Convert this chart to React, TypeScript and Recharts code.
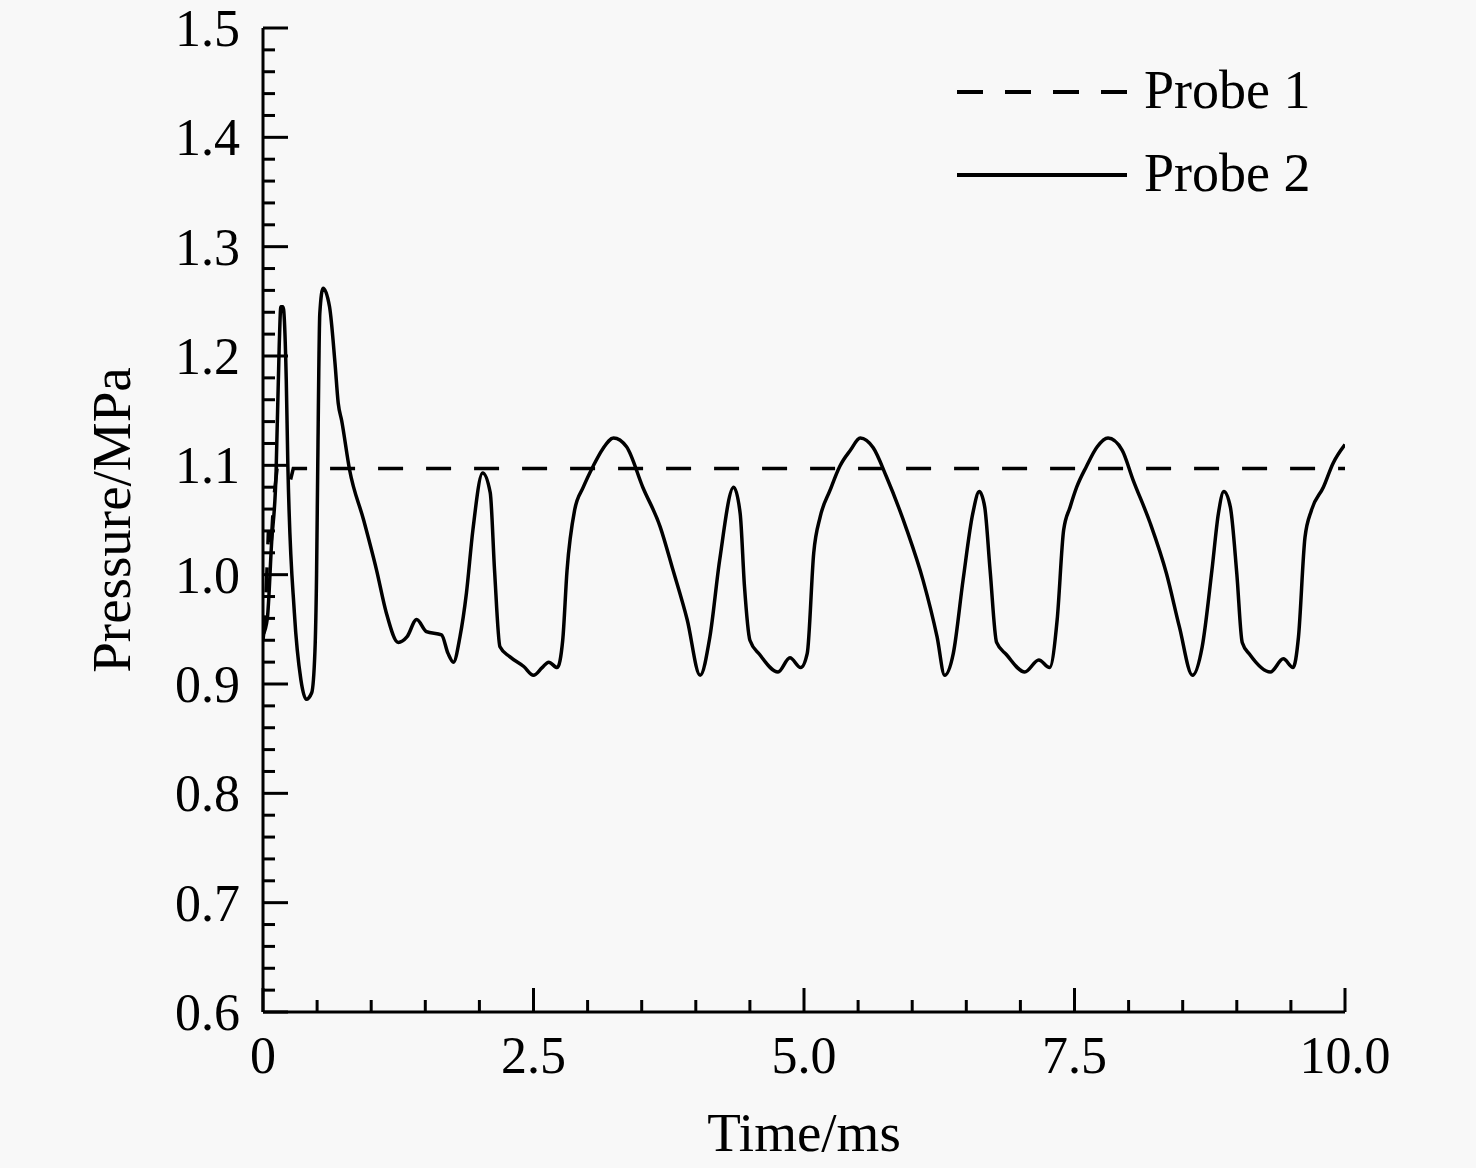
import React from 'react';
import { LineChart, Line, XAxis, YAxis, Legend, Label } from 'recharts';

const FONT = '"Liberation Serif", "Times New Roman", serif';

// Probe 1: time (ms), pressure (MPa)
const probe1Time = [0, 0.02, 0.05, 0.07, 0.1, 0.13, 0.2, 0.25, 0.28, 10];
const probe1Pressure = [0.94, 0.96, 1.04, 1.02, 1.07, 1.097, 1.097, 1.085, 1.097, 1.097];

// Probe 2: time (ms), pressure (MPa)
const probe2Time = [
  0, 0.04, 0.08, 0.12, 0.15, 0.165, 0.185, 0.215, 0.23, 0.29, 0.35, 0.4, 0.45, 0.48, 0.495, 0.505,
  0.525, 0.555, 0.615, 0.665, 0.695, 0.727, 0.8, 0.93, 1.05, 1.14, 1.25, 1.33, 1.42, 1.51, 1.65,
  1.71, 1.76, 1.82, 1.88, 1.94, 2.03, 2.1, 2.14, 2.19, 2.28, 2.41, 2.5, 2.58, 2.64, 2.72, 2.77,
  2.81, 2.88, 2.96, 3.05, 3.14, 3.24, 3.36, 3.51, 3.67, 3.79, 3.92, 4.04, 4.13, 4.22, 4.35, 4.41,
  4.45, 4.5, 4.59, 4.76, 4.87, 4.97, 5.03, 5.09, 5.15, 5.24, 5.33, 5.43, 5.52, 5.64, 5.76, 5.95,
  6.1, 6.23, 6.3, 6.38, 6.47, 6.56, 6.62, 6.67, 6.72, 6.78, 6.87, 7.04, 7.17, 7.27, 7.34, 7.4,
  7.46, 7.52, 7.61, 7.71, 7.81, 7.94, 8.04, 8.2, 8.35, 8.47, 8.59, 8.68, 8.77, 8.83, 8.88, 8.94,
  9.0, 9.05, 9.12, 9.31, 9.43, 9.52, 9.57, 9.63, 9.69, 9.8, 9.89, 10.0,
];
const probe2Pressure = [
  0.945, 0.96, 1.03, 1.09, 1.21, 1.245, 1.245, 1.178, 1.099, 0.965, 0.904, 0.886, 0.892, 0.93, 1.0, 1.09,
  1.239, 1.262, 1.245, 1.194, 1.157, 1.141, 1.096, 1.05, 1.004, 0.965, 0.938, 0.943, 0.959, 0.948, 0.945,
  0.928, 0.92, 0.943, 0.983, 1.041, 1.093, 1.075, 1.004, 0.934, 0.925, 0.916, 0.908, 0.915, 0.92, 0.915, 0.94,
  1.004, 1.059, 1.08, 1.099, 1.115, 1.125, 1.117, 1.08, 1.044, 1.004, 0.959, 0.908, 0.943, 1.013, 1.08, 1.056,
  0.989, 0.94, 0.927, 0.911, 0.924, 0.915, 0.928, 1.02, 1.053, 1.077, 1.099, 1.114, 1.125, 1.116, 1.09, 1.041,
  0.995, 0.943, 0.908, 0.928, 0.995, 1.056, 1.076, 1.062, 1.004, 0.938, 0.927, 0.911, 0.922, 0.915, 0.959, 1.041,
  1.062, 1.08, 1.099, 1.117, 1.125, 1.114, 1.087, 1.047, 1.001, 0.952, 0.908, 0.934, 1.004, 1.056, 1.076, 1.062,
  1.001, 0.938, 0.927, 0.911, 0.923, 0.915, 0.943, 1.034, 1.059, 1.08, 1.102, 1.119,
];

const seriesNames = ['Probe 1', 'Probe 2'];

// Axis ticks
const xMajorTicks = [0, 2.5, 5, 7.5, 10];
const xMinorStep = 0.5;
const yMajorTicks = [0.6, 0.7, 0.8, 0.9, 1.0, 1.1, 1.2, 1.3, 1.4, 1.5];
const yMinorStep = 0.02;

const xTicks = Array.from({ length: Math.round(10 / xMinorStep) + 1 }, (_, i) => +(i * xMinorStep).toFixed(2));
const yTicks = Array.from({ length: Math.round(0.9 / yMinorStep) + 1 }, (_, i) => +(0.6 + i * yMinorStep).toFixed(2));

const probe1Data = probe1Time.map((t, i) => ({ t, p: probe1Pressure[i] }));
const probe2Data = probe2Time.map((t, i) => ({ t, p: probe2Pressure[i] }));

const isMajor = (v: number, majors: number[]) => majors.some((m) => Math.abs(m - v) < 1e-6);

const XTick = (props: any) => {
  const { x, y, payload } = props;
  const v = payload.value as number;
  const major = isMajor(v, xMajorTicks);
  return (
    <g>
      <line x1={x} x2={x} y1={y} y2={y - (major ? 24 : 12)} stroke="#000" strokeWidth={3} />
      {major && (
        <text x={x} y={y + 61} textAnchor="middle" fontSize={52} fontFamily={FONT} fill="#000">
          {v === 0 ? '0' : v.toFixed(1)}
        </text>
      )}
    </g>
  );
};

const YTick = (props: any) => {
  const { x, y, payload } = props;
  const v = payload.value as number;
  const major = isMajor(v, yMajorTicks);
  return (
    <g>
      <line x1={x} x2={x + (major ? 25 : 12)} y1={y} y2={y} stroke="#000" strokeWidth={3} />
      {major && (
        <text x={x - 23} y={y + 18} textAnchor="end" fontSize={52} fontFamily={FONT} fill="#000">
          {v.toFixed(1)}
        </text>
      )}
    </g>
  );
};

const LegendContent = () => (
  <svg width={400} height={170} style={{ display: 'block' }}>
    <line x1={17} x2={187} y1={42} y2={42} stroke="#000" strokeWidth={4} strokeDasharray="26 22" />
    <text x={204} y={58} fontSize={54} fontFamily={FONT} fill="#000">{seriesNames[0]}</text>
    <line x1={17} x2={187} y1={125} y2={125} stroke="#000" strokeWidth={4} />
    <text x={204} y={141} fontSize={54} fontFamily={FONT} fill="#000">{seriesNames[1]}</text>
  </svg>
);

export default function App() {
  return (
    <div style={{ position: 'absolute', left: 0, top: 0, width: 1476, height: 1168, background: '#f8f8f8' }}>
      <LineChart width={1476} height={1168} margin={{ top: 28, right: 131, left: 0, bottom: 0 }}>
        <XAxis
          type="number"
          dataKey="t"
          domain={[0, 10]}
          ticks={xTicks}
          interval={0}
          height={156}
          tickSize={0}
          tickMargin={0}
          tick={<XTick />}
          tickLine={false}
          axisLine={{ stroke: '#000', strokeWidth: 3 }}
          allowDataOverflow
        >
          <Label
            content={(p: any) => {
              const vb = p.viewBox || { x: 263, y: 1012, width: 1082 };
              return (
                <text x={vb.x + vb.width / 2} y={vb.y + 139} textAnchor="middle" fontSize={55} fontFamily={FONT} fill="#000">
                  Time/ms
                </text>
              );
            }}
          />
        </XAxis>
        <YAxis
          type="number"
          domain={[0.6, 1.5]}
          ticks={yTicks}
          interval={0}
          width={263}
          tickSize={0}
          tickMargin={0}
          tick={<YTick />}
          tickLine={false}
          axisLine={{ stroke: '#000', strokeWidth: 3 }}
          allowDataOverflow
        >
          <Label
            content={(p: any) => {
              const vb = p.viewBox || { x: 0, y: 28, height: 984 };
              const cy = vb.y + vb.height / 2;
              return (
                <text x={130} y={cy} transform={`rotate(-90, 130, ${cy})`} textAnchor="middle" fontSize={55} fontFamily={FONT} fill="#000">
                  Pressure/MPa
                </text>
              );
            }}
          />
        </YAxis>
        <Legend
          layout="vertical"
          align="center"
          verticalAlign="middle"
          content={<LegendContent />}
          wrapperStyle={{ position: 'absolute', left: 940, top: 50, width: 400, height: 170 }}
        />
        <Line
          data={probe1Data}
          dataKey="p"
          name={seriesNames[0]}
          type="linear"
          stroke="#000"
          strokeWidth={3.5}
          strokeDasharray="25 23"
          dot={false}
          activeDot={false}
          isAnimationActive={false}
        />
        <Line
          data={probe2Data}
          dataKey="p"
          name={seriesNames[1]}
          type="monotone"
          stroke="#000"
          strokeWidth={3.5}
          dot={false}
          activeDot={false}
          isAnimationActive={false}
        />
      </LineChart>
    </div>
  );
}
